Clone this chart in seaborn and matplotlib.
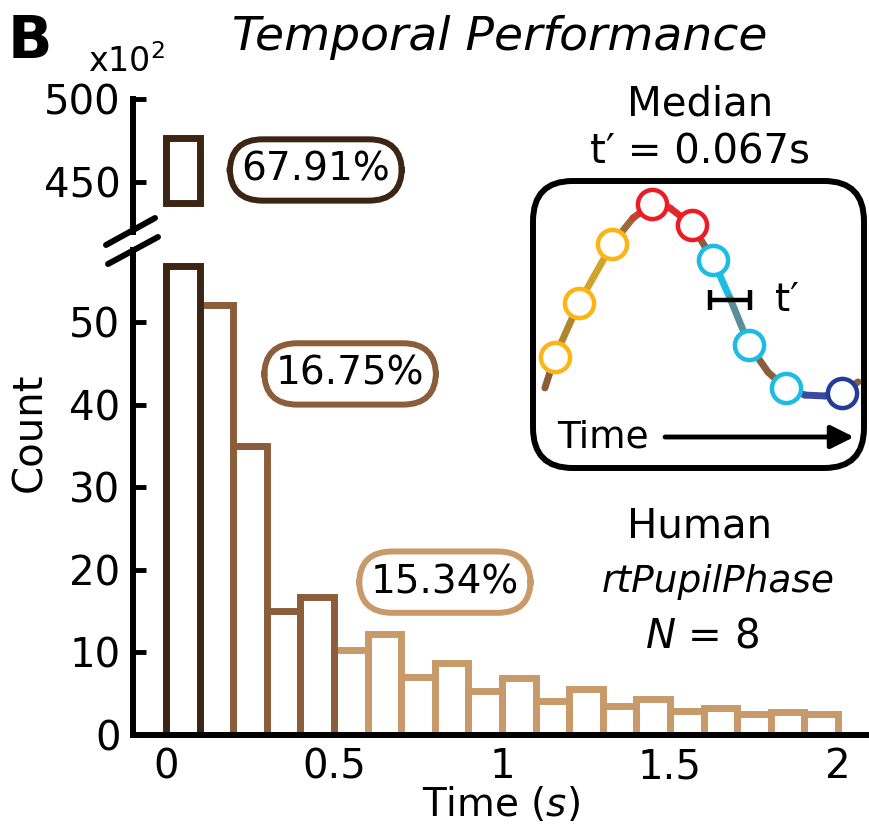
import numpy as np
import pandas as pd
import matplotlib
matplotlib.use("Agg")
import matplotlib.pyplot as plt
from matplotlib.patches import FancyBboxPatch
from matplotlib.collections import LineCollection
from matplotlib.lines import Line2D
import seaborn as sns

# ---- data (counts are x10^2) ----
bin_edges = [0.0, 0.1, 0.2, 0.3, 0.4, 0.5, 0.6, 0.7, 0.8, 0.9, 1.0,
             1.1, 1.2, 1.3, 1.4, 1.5, 1.6, 1.7, 1.8, 1.9, 2.0]
counts = [476.8, 52.1, 35.0, 15.0, 16.7, 10.3, 12.2, 7.0, 8.7, 5.3,
          6.9, 4.1, 5.6, 3.5, 4.4, 2.9, 3.3, 2.5, 2.8, 2.5]
groups = ["fast"] * 1 + ["mid"] * 4 + ["slow"] * 15
group_names = ["fast", "mid", "slow"]
group_pct = ["67.91%", "16.75%", "15.34%"]
group_colors = ["#3d2516", "#8b5d3a", "#c89a6a"]

# broken axis: lower panel shows first bar up to its stub, upper panel shows its top
low_ylim = (0, 58.7)
high_ylim = (420, 500)
first_bar_stub = 56.8
first_bar_high_bottom = 437.7

x_ticks = [0, 0.5, 1, 1.5, 2]
x_ticklabels = ["0", "0.5", "1", "1.5", "2"]
low_yticks = [0, 10, 20, 30, 40, 50]
high_yticks = [450, 500]

# ---- inset schematic (units 0-100 inside the frame) ----
curve_u = [3.6, 6.6, 13.9, 23.9, 30.2, 36.0, 41.4, 48.0, 54.4, 59.5, 65.3,
           71.0, 76.4, 82.2, 88.2, 93.4, 98.2]
curve_v = [27.9, 38.7, 57.5, 78.0, 87.1, 92.0, 90.6, 84.7, 72.5, 59.2, 42.9,
           33.4, 27.9, 25.4, 25.1, 26.1, 30.0]
seg_colors = ["#8b5d3a", "#b08530", "#d0a428", "#9a6a38", "#c8402e", "#e0282e",
              "#e0282e", "#8b5d3a", "#1cbce3", "#5a8f98", "#8b5d3a", "#8b5d3a",
              "#4a55a0", "#3a4aa0", "#3a4aa0", "#8b5d3a"]
marker_u = [6.6, 13.9, 23.9, 36.0, 48.0, 54.4, 65.3, 76.4, 93.4]
marker_v = [38.7, 57.5, 78.0, 92.0, 84.7, 72.5, 42.9, 27.9, 26.1]
marker_colors = ["#fdb515", "#fdb515", "#fdb515", "#ed1c24", "#ed1c24",
                 "#1cbce3", "#1cbce3", "#1cbce3", "#233c96"]

sns.set_style("ticks")
plt.rcParams["font.family"] = ["DejaVu Sans"]
plt.rcParams.update({
    "axes.linewidth": 4.3,
    "text.color": "black",
    "axes.labelcolor": "black",
    "axes.edgecolor": "black",
    "xtick.color": "black",
    "ytick.color": "black",
})

fig = plt.figure(figsize=(8.7, 8.34), dpi=100)
W, H = 870, 834

def fx(px):
    return px / W

def fy(py):
    return 1 - py / H

ax = fig.add_axes([fx(133), fy(735), 1 - fx(133), (735 - 250) / H])
ax_hi = fig.add_axes([fx(133), fy(232), 1 - fx(133), (232 - 99) / H])

edges = np.array(bin_edges)
centers = (edges[:-1] + edges[1:]) / 2
low_counts = [min(c, first_bar_stub) for c in counts]
df = pd.DataFrame({"time": centers, "count": low_counts, "group": groups})

# draw light first so darker edges sit on top
for name, col in reversed(list(zip(group_names, group_colors))):
    idx = [i for i, g in enumerate(groups) if g == name]
    sub = df[df.group == name]
    sub_edges = bin_edges[idx[0]:idx[-1] + 2]
    sns.histplot(data=sub, x="time", weights="count", bins=sub_edges,
                 fill=False, color=col, alpha=1, linewidth=5, ax=ax)

ax_hi.bar(centers[0], counts[0] - first_bar_high_bottom, bottom=first_bar_high_bottom,
          width=bin_edges[1] - bin_edges[0], fill=False, edgecolor=group_colors[0],
          linewidth=5)

for a in (ax, ax_hi):
    a.set_xlim(-0.098, 2.095)
    a.spines["top"].set_visible(False)
    a.spines["right"].set_visible(False)
    a.tick_params(direction="in", length=9, width=3.5, labelsize=29, pad=9)
    a.set_facecolor("none")

ax.set_ylim(*low_ylim)
ax.set_yticks(low_yticks)
ax.set_xticks(x_ticks)
ax.set_xticklabels(x_ticklabels)
ax.set_xlabel("Time ($s$)", fontsize=28, labelpad=-2)
ax.set_ylabel("")
ax.spines["bottom"].set_zorder(5)

ax_hi.set_ylim(*high_ylim)
ax_hi.set_yticks(high_yticks)
ax_hi.spines["bottom"].set_visible(False)
ax_hi.set_xticks([])

# axis break marks
for (x0, y0, x1, y1) in [(106, 245, 155, 218), (108, 264, 158, 237)]:
    fig.add_artist(Line2D([fx(x0), fx(x1)], [fy(y0), fy(y1)], color="black",
                          lw=4.3, transform=fig.transFigure))

fig.text(fx(30), fy(432), "Count", rotation=90, fontsize=29, ha="center", va="center")
fig.text(fx(88), fy(72), "x10$^2$", fontsize=24, ha="left", va="baseline")
fig.text(fx(8), fy(42), "B", fontsize=42, fontweight="bold", ha="left", va="center")
fig.text(fx(500), fy(38), "Temporal Performance", fontsize=34, style="italic",
         ha="center", va="center")

# percentage labels
pct_axes = [ax_hi, ax, ax]
pct_pos = [(0.446, 457.3), (0.548, 43.7), (0.830, 18.5)]
for a, (px, py), txt, col in zip(pct_axes, pct_pos, group_pct, group_colors):
    a.text(px, py, txt, fontsize=28, ha="center", va="center", zorder=6,
           bbox=dict(boxstyle="round,pad=0.3,rounding_size=0.85", fc="white",
                     ec=col, lw=4.3))

fig.text(fx(700), fy(105), "Median", fontsize=29, ha="center", va="center")
fig.text(fx(700), fy(152), "t\u2032 = 0.067s", fontsize=29, ha="center", va="center")
fig.text(fx(700), fy(527), "Human", fontsize=29, ha="center", va="center")
fig.text(fx(718), fy(582), "rtPupilPhase", fontsize=27, style="italic",
         ha="center", va="center")
fig.text(fx(702), fy(637), "$N$ = 8", fontsize=29, ha="center", va="center")

# inset schematic
ins = fig.add_axes([fx(533), fy(468), (864 - 533) / W, (468 - 181) / H])
ins.set_xlim(0, 100)
ins.set_ylim(0, 100)
ins.axis("off")
ins.add_patch(FancyBboxPatch((0, 0), 100, 100, boxstyle="round,pad=0,rounding_size=12",
                             mutation_aspect=1.17, fc="white", ec="black", lw=4.3,
                             clip_on=False))
pts = np.column_stack([curve_u, curve_v])
segs = np.stack([pts[:-1], pts[1:]], axis=1)
ins.add_collection(LineCollection(segs, colors=seg_colors, linewidths=5,
                                  capstyle="round", zorder=2))
for u, v, c in zip(marker_u, marker_v, marker_colors):
    ins.plot(u, v, "o", ms=21, mfc="white", mec=c, mew=3.2, zorder=3, clip_on=False)
ins.errorbar(59.5, 58.5, xerr=6.0, color="black", lw=3.2, capsize=7, capthick=3.2,
             zorder=4)
ins.text(73.1, 58.5, "t\u2032", fontsize=28, ha="left", va="center")
ins.text(7.3, 10.8, "Time", fontsize=27, ha="left", va="center")
ins.annotate("", xy=(97, 10.8), xytext=(39.9, 10.8),
             arrowprops=dict(arrowstyle="-|>", color="black", lw=3.5,
                             mutation_scale=35, shrinkA=0, shrinkB=0))

fig.savefig("out.png", dpi=100)
